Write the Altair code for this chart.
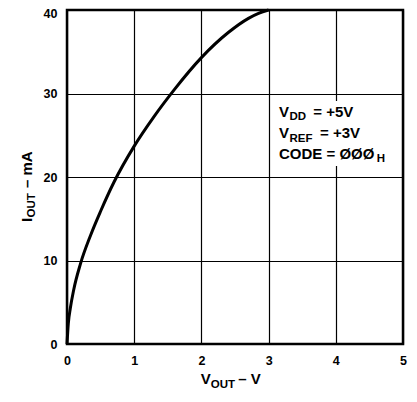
import altair as alt
import pandas as pd

# Curve data (V_OUT in volts, I_OUT in mA)
v_out = [0, 0.02, 0.05, 0.1, 0.2, 0.35, 0.5, 0.7, 1.0, 1.3, 1.6, 2.0, 2.4, 2.7, 2.85, 3.0]
i_out = [0, 2.5, 4.3, 6.5, 9.6, 13.0, 15.9, 19.4, 23.7, 27.3, 30.5, 34.3, 37.3, 39.0, 39.6, 40.0]

x_ticks = [0, 1, 2, 3, 4, 5]
y_ticks = [0, 10, 20, 30, 40]

FONT = "Liberation Sans"

df = pd.DataFrame({"v": v_out, "i": i_out})

axis_common = dict(
    title=None, grid=True, ticks=False, tickSize=0, domain=False,
    labelFont=FONT, labelFontWeight="bold", labelFontSize=12.5, labelColor="black",
    labelPadding=10, gridColor="black", gridWidth=1.2, gridOpacity=1,
    labelFlush=False,
)

curve = alt.Chart(df).mark_line(color="black", strokeWidth=3, interpolate="monotone").encode(
    x=alt.X("v:Q", scale=alt.Scale(domain=[0, 5], nice=False),
            axis=alt.Axis(values=x_ticks, **axis_common)),
    y=alt.Y("i:Q", scale=alt.Scale(domain=[0, 40], nice=False),
            axis=alt.Axis(values=y_ticks,
                          labelOffset={"condition": {"test": "datum.value == 40", "value": 3.5}, "value": 0},
                          **axis_common)),
)

# white patch behind the annotation (hides the grid line under the text)
patch = alt.Chart(pd.DataFrame({"a": [0]})).mark_rect(color="white").encode(
    x=alt.value(262), x2=alt.value(276), y=alt.value(91), y2=alt.value(156)
)


def piece(text, px, py, size, angle=0):
    kw = dict(align="left", baseline="alphabetic", font=FONT, fontWeight="bold",
              fontSize=size, color="black")
    if angle:
        kw["angle"] = angle
    return alt.Chart(pd.DataFrame({"t": [text]})).mark_text(**kw).encode(
        x=alt.value(px), y=alt.value(py), text="t:N"
    )


MAIN = 15
SUB = 11.5

texts = [
    # annotation
    piece("V", 212, 106.7, MAIN),
    piece("DD", 222.5, 110.2, SUB),
    piece("= +5V", 246.3, 106.7, MAIN),
    piece("V", 212, 128.3, MAIN),
    piece("REF", 222.5, 131.8, SUB),
    piece("= +3V", 253, 128.3, MAIN),
    piece("CODE = ØØØ", 212, 148.7, MAIN),
    piece("H", 309.7, 152.2, SUB),
    # x axis title
    piece("V", 133.7, 374.3, MAIN),
    piece("OUT", 143.7, 377.7, SUB),
    piece("– V", 171.3, 374.3, MAIN),
    # y axis title (rotated)
    piece("I", -35.5, 212, MAIN, 270),
    piece("OUT", -32, 207.5, SUB, 270),
    piece("– mA", -35.5, 178, MAIN, 270),
]

chart = alt.layer(patch, curve, *texts).properties(
    width=336, height=334,
    autosize=alt.AutoSizeParams(type="none"),
    padding={"left": 59, "top": 2, "right": 6, "bottom": 50},
    background="white",
).configure_view(stroke="black", strokeWidth=2.5)

chart.save("out.html", embed_options={"renderer": "svg", "actions": False})
